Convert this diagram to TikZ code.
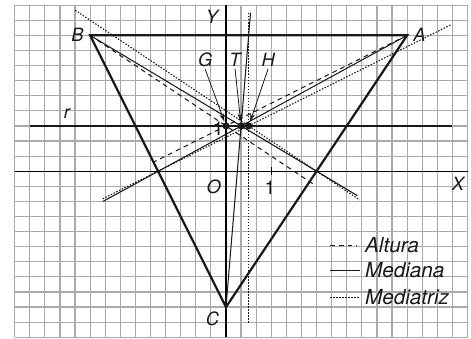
\documentclass[tikz,border=0pt]{standalone}
\usepackage{fontspec}
\setmainfont{TeX Gyre Heros}
\usetikzlibrary{calc,arrows.meta}
\definecolor{trigrid}{RGB}{170,170,170}
\definecolor{triink}{RGB}{25,25,25}

\begin{document}
\begin{tikzpicture}
    % Style definitions
    \tikzset{
      gridline/.style={draw=trigrid, line width=0.75pt},
      axis/.style={draw=black, line width=0.8pt},
      side/.style={draw=triink, line width=1.4pt},
      altura/.style={draw=triink, line width=0.65pt, dash pattern=on 3pt off 2.5pt},
      mediana/.style={draw=triink, line width=0.65pt},
      mediatriz/.style={draw=triink, line width=0.7pt, dash pattern=on 0.9pt off 1pt},
      lbl/.style={font=\fontsize{11.5}{13}\selectfont\itshape, text=triink, inner sep=1pt},
      num/.style={font=\fontsize{12}{14}\selectfont, text=triink, inner sep=1pt},
      legtext/.style={font=\fontsize{13}{15}\selectfont\itshape, text=triink, inner sep=1pt, anchor=west},
      dot/.style={circle, fill=triink, inner sep=0pt, minimum size=4.5pt},
      pointer/.style={draw=triink, line width=0.5pt, shorten >=0.5pt,
        -{Stealth[length=5pt,width=3pt]}},
    }
    \useasboundingbox (-4.99,-3.69) rectangle (5.41,3.78);

    % ------------------------------------------------------------------
    % Squared paper: one square is 1/3 of a unit
    % ------------------------------------------------------------------
    \draw[gridline, step=1/3] (-14/3,-11/3) grid (16/3,11/3);

    % Axes
    \coordinate (xl) at (-14/3,0);
    \coordinate (xr) at (16/3,0);
    \coordinate (yb) at (0,-11/3);
    \coordinate (yt) at (0,11/3);
    \draw[axis] (xl) -- (xr);
    \draw[axis] (yb) -- (yt);
    \draw[axis] (1,-0.09) -- (1,0.09);

    % Vertices, midpoints and the three notable points on r
    \coordinate (A) at (4,3);
    \coordinate (B) at (-3,3);
    \coordinate (C) at (0,-3);
    \coordinate (MAB) at (0.5,3);
    \coordinate (MBC) at (-1.5,0);
    \coordinate (MAC) at (2,0);
    \node[dot] (dL) at (0,1) {};
    \node[dot] (dM) at (1/3,1) {};
    \node[dot] (dR) at (0.5,1) {};

    % Free ends of the extended lines
    \coordinate (rl) at (-4.33,1);
    \coordinate (rr) at (4.98,1);
    \coordinate (medA) at (-2.72,-0.67);
    \coordinate (medB) at (2.9,-0.54);
    \coordinate (medC) at (0.542,3.5);
    \coordinate (altA) at (-1.6,0.2);
    \coordinate (altB) at (1.95,-0.3);
    \coordinate (bisABt) at (0.5,3.5);
    \coordinate (bisABb) at (0.5,-3.35);
    \coordinate (bisBCl) at (-2.72,-0.61);
    \coordinate (bisBCr) at (4.98,3.24);
    \coordinate (bisACl) at (-3.33,3.553);
    \coordinate (bisACr) at (2.95,-0.633);

    % Line r
    \draw[side] (rl) -- (rr);

    % Altitudes (the one from C lies on the Y axis)
    \draw[altura] (A) -- (altA);
    \draw[altura] (B) -- (altB);

    % Medians
    \draw[mediana] (A) -- (medA);
    \draw[mediana] (B) -- (medB);
    \draw[mediana] (C) -- (medC);

    % Perpendicular bisectors
    \draw[mediatriz] (bisABb) -- (bisABt);
    \draw[mediatriz] (bisBCl) -- (bisBCr);
    \draw[mediatriz] (bisACl) -- (bisACr);

    % Triangle
    \draw[side, line join=miter] (A) -- (B) -- (C) -- cycle;

    % Labels
    \node[lbl] (lA) at (4.27,3.02) {A};
    \node[lbl] (lB) at (-3.28,3.02) {B};
    \node[lbl] (lC) at (-0.3,-3.26) {C};
    \node[lbl] (lX) at (5.12,-0.27) {X};
    \node[lbl] (lY) at (-0.31,3.4) {Y};
    \node[lbl] (lO) at (-0.27,-0.34) {O};
    \node[num] (one x) at (0.97,-0.37) {1};
    \node[num] (one y) at (-0.17,0.93) {1};
    \node[lbl] (lr) at (-3.51,1.27) {r};

    % Pointers to the points on r
    \node[lbl] (lG) at (-0.46,2.45) {G};
    \node[lbl] (lT) at (0.2,2.45) {T};
    \node[lbl] (lH) at (0.93,2.45) {H};
    \draw[pointer] (lG.south) -- (dL);
    \draw[pointer] (lT.south) -- (dM);
    \draw[pointer] (lH.south) -- (dR);

    % Legend
    \coordinate (k1a) at (2.3,-1.63);  \coordinate (k1b) at (2.9,-1.63);
    \coordinate (k2a) at (2.3,-2.19);  \coordinate (k2b) at (2.95,-2.19);
    \coordinate (k3a) at (2.3,-2.78);  \coordinate (k3b) at (2.95,-2.78);
    \draw[altura] (k1a) -- (k1b);
    \draw[mediana] (k2a) -- (k2b);
    \draw[mediatriz] (k3a) -- (k3b);
    \node[legtext] (tAlt) at (3.03,-1.63) {Altura};
    \node[legtext] (tMed) at (3.03,-2.19) {Mediana};
    \node[legtext] (tMtz) at (3.03,-2.78) {Mediatriz};
\end{tikzpicture}
\end{document}
